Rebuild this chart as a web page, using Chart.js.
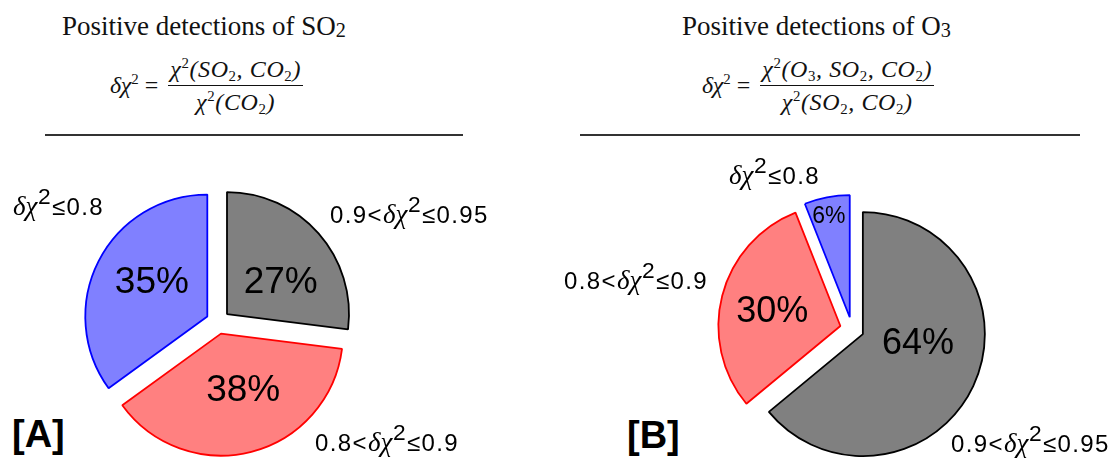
<!DOCTYPE html>
<html>
<head>
<meta charset="utf-8">
<script src="https://cdn.jsdelivr.net/npm/chart.js@4.4.1/dist/chart.umd.min.js"></script>
<style>
  html, body { margin: 0; padding: 0; background: #fff; overflow: hidden; }
  #page { position: relative; width: 1117px; height: 459px; }
  .title { position: absolute; font-family: "Liberation Serif", "Times New Roman", serif; font-size: 27px; color: #111; white-space: nowrap; }
  .title sub { font-size: 0.75em; vertical-align: -0.12em; }
  .eq { position: absolute; display: flex; align-items: center; font-family: "Liberation Serif", serif; font-style: italic; font-size: 24px; color: #111; white-space: nowrap; }
  .eq sup { font-size: 0.62em; font-style: normal; vertical-align: 0.6em; line-height: 0; }
  .eq sub { font-size: 0.62em; font-style: normal; vertical-align: -0.3em; line-height: 0; }
  .eq .eqs { font-style: normal; margin: 0 10px 0 6px; }
  .eq .frac { display: inline-flex; flex-direction: column; align-items: center; }
  .eq .num { border-bottom: 1.4px solid #111; padding: 0 2px 3px 2px; letter-spacing: 0.6px; line-height: 26px; }
  .eq .den { padding-top: 3px; letter-spacing: 0.6px; line-height: 26px; }
  .rule { position: absolute; height: 2px; background: #333; }
  .lbl { position: absolute; font-family: "Liberation Sans", Arial, sans-serif; font-size: 24px; line-height: 24px; letter-spacing: 1.4px; color: #000; white-space: nowrap; }
  .lbl .dx { font-family: "Liberation Serif", serif; font-style: italic; font-size: 27px; letter-spacing: 0.5px; }
  .lbl sup { font-size: 0.95em; vertical-align: 0.5em; line-height: 0; }
  .tag { position: absolute; font-family: "Liberation Sans", Arial, sans-serif; font-weight: bold; font-size: 38px; line-height: 38px; color: #000; }
  canvas { position: absolute; }
</style>
</head>
<body>
<div id="page">
  <div class="title" style="left:62px; top:11px;">Positive detections of SO<sub>2</sub></div>
  <div class="title" style="left:682px; top:11px;">Positive detections of O<sub>3</sub></div>

  <div class="eq" style="left:110px; top:56px;">
    <span>δχ<sup>2</sup></span><span class="eqs">=</span>
    <span class="frac">
      <span class="num">χ<sup>2</sup>(SO<sub>2</sub>, CO<sub>2</sub>)</span>
      <span class="den">χ<sup>2</sup>(CO<sub>2</sub>)</span>
    </span>
  </div>
  <div class="eq" style="left:702px; top:56px;">
    <span>δχ<sup>2</sup></span><span class="eqs">=</span>
    <span class="frac">
      <span class="num">χ<sup>2</sup>(O<sub>3</sub>, SO<sub>2</sub>, CO<sub>2</sub>)</span>
      <span class="den">χ<sup>2</sup>(SO<sub>2</sub>, CO<sub>2</sub>)</span>
    </span>
  </div>

  <div class="rule" style="left:45px; top:134px; width:418px;"></div>
  <div class="rule" style="left:580px; top:134px; width:500px;"></div>

  <canvas id="pieA" width="300" height="300" style="left:68px; top:172px;"></canvas>
  <canvas id="pieB" width="300" height="300" style="left:702px; top:179px;"></canvas>

  <div class="tag" style="left:12px; top:415px;">[A]</div>
  <div class="tag" style="left:627px; top:416px;">[B]</div>
</div>

<script>
// categories, in drawing order (clockwise from 12 o'clock)
const categories = ['0.9<δχ²≤0.95', '0.8<δχ²≤0.9', 'δχ²≤0.8'];
// percentages of positive detections
const sharesSO2 = [27, 38, 35];
const sharesO3 = [64, 30, 6];

const fills = ['#808080', '#ff8080', '#8080ff'];
const edges = ['#000000', '#ff0000', '#0000ff'];

// where the category text sits around each pie: [left, middle y]
const labelSpotsA = [[330, 214], [315, 442], [13, 206]];
const labelSpotsB = [[951, 443], [564, 280], [729, 175]];

function richLabel(text) {
    return text.replace('<', '&lt;').replace('δχ²', '<span class="dx">δχ</span><sup>2</sup>');
}

function placeLabels(spots) {
    const page = document.getElementById('page');
    categories.forEach((c, i) => {
        const div = document.createElement('div');
        div.className = 'lbl';
        div.innerHTML = richLabel(c);
        div.style.left = spots[i][0] + 'px';
        div.style.top = (spots[i][1] - 12) + 'px';
        page.appendChild(div);
    });
}
placeLabels(labelSpotsA);
placeLabels(labelSpotsB);

// pull slices out from the centre while they are drawn
const explode = {
    id: 'explode',
    beforeDatasetDraw(chart, args, opts) {
        args.meta.data.forEach((arc, i) => {
            const mid = (arc.startAngle + arc.endAngle) / 2;
            const d = opts.distance[i] || 0;
            arc._home = [arc.x, arc.y];
            arc.x += Math.cos(mid) * d;
            arc.y += Math.sin(mid) * d;
        });
    },
    afterDatasetDraw(chart, args) {
        args.meta.data.forEach(arc => {
            if (arc._home) {
                arc.x = arc._home[0];
                arc.y = arc._home[1];
            }
        });
    }
};

// percentage text inside each slice
const pctLabels = {
    id: 'pctLabels',
    afterDatasetsDraw(chart, args, opts) {
        const ctx = chart.ctx;
        const meta = chart.getDatasetMeta(0);
        const values = chart.data.datasets[0].data;
        const total = values.reduce((a, b) => a + b, 0);
        const dist = chart.options.plugins.explode.distance;
        ctx.save();
        ctx.fillStyle = '#000';
        ctx.textAlign = 'center';
        ctx.textBaseline = 'middle';
        meta.data.forEach((arc, i) => {
            const mid = (arc.startAngle + arc.endAngle) / 2;
            const vx = arc.x + Math.cos(mid) * dist[i];
            const vy = arc.y + Math.sin(mid) * dist[i];
            const a = mid + (opts.shift[i] || 0) * Math.PI / 180;
            const r = arc.outerRadius * opts.radius[i];
            ctx.font = opts.size[i] + 'px "Liberation Sans", Arial, sans-serif';
            ctx.fillText(Math.round(values[i] / total * 100) + '%', vx + Math.cos(a) * r, vy + Math.sin(a) * r);
        });
        ctx.restore();
    }
};

function makePie(id, shares, explodeDist, labelOpts) {
    return new Chart(document.getElementById(id), {
        type: 'pie',
        data: {
            labels: categories,
            datasets: [{
                data: shares,
                backgroundColor: fills,
                borderColor: edges,
                borderWidth: 1.8
            }]
        },
        options: {
            responsive: false,
            animation: false,
            events: [],
            radius: 122,
            layout: { padding: 0 },
            plugins: {
                legend: { display: false },
                tooltip: { enabled: false },
                explode: { distance: explodeDist },
                pctLabels: labelOpts
            }
        },
        plugins: [explode, pctLabels]
    });
}

makePie('pieA', sharesSO2, [12, 12, 12], {
    radius: [0.51, 0.5, 0.53],
    shift: [11, -7, 4],
    size: [37, 37, 37]
});
makePie('pieB', sharesO3, [12, 12, 12], {
    radius: [0.46, 0.57, 0.84],
    shift: [-15, -3, -1],
    size: [36, 36, 23]
});
</script>
</body>
</html>
